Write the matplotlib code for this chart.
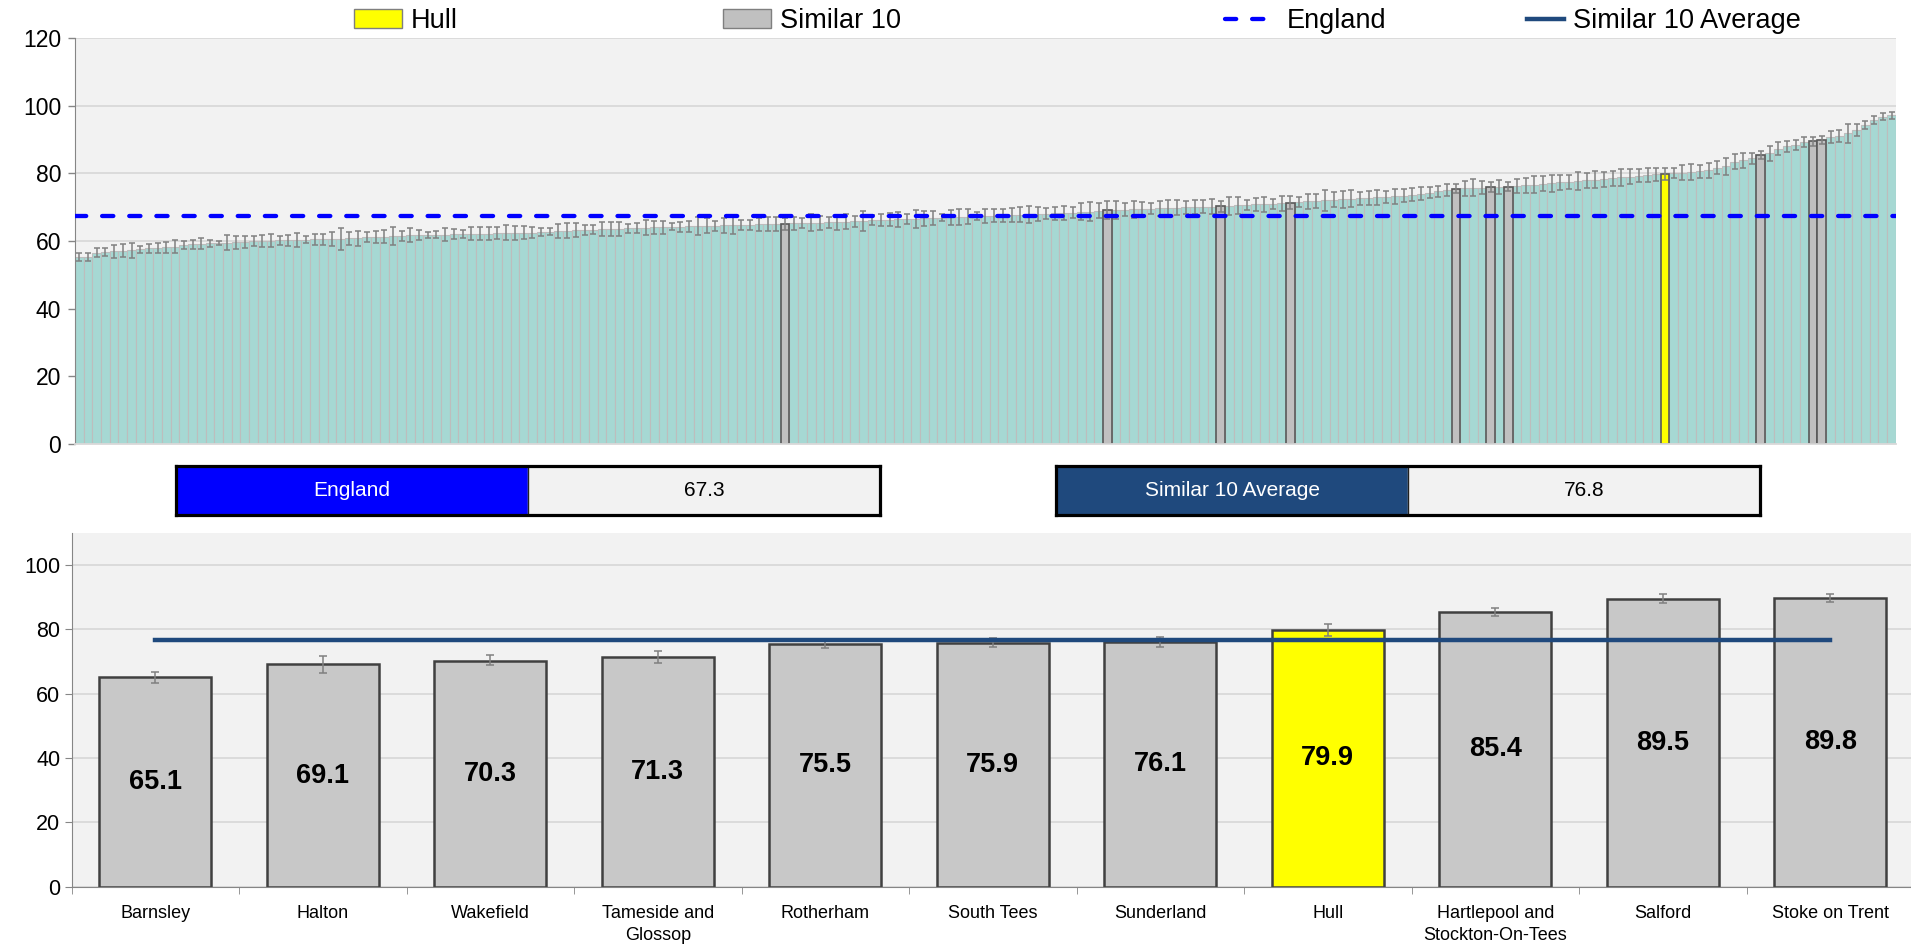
#!/usr/bin/env python3
"""Hull vs all CCGs (sorted) plus the Similar 10 comparison panel."""
import matplotlib.pyplot as plt
from matplotlib.lines import Line2D
from matplotlib.patches import Patch

plt.rcParams['font.family'] = ['Liberation Sans', 'DejaVu Sans']

# every CCG in England, sorted ascending
CCG_VALUES = [
    55.2, 55.3, 56.6, 56.8, 57.0, 57.1, 57.2, 57.5, 57.8, 58.0,
    58.1, 58.3, 58.9, 59.0, 59.2, 59.3, 59.4, 59.5, 59.6, 59.7,
    60.0, 60.0, 60.1, 60.2, 60.2, 60.3, 60.4, 60.5, 60.5, 60.6,
    60.6, 60.8, 60.8, 61.1, 61.2, 61.3, 61.4, 61.6, 61.7, 61.7,
    61.8, 61.9, 61.9, 62.0, 62.1, 62.2, 62.2, 62.2, 62.3, 62.4,
    62.4, 62.5, 62.5, 62.6, 62.7, 62.9, 63.0, 63.2, 63.3, 63.4,
    63.5, 63.5, 63.6, 63.7, 63.8, 63.9, 64.0, 64.1, 64.2, 64.2,
    64.3, 64.4, 64.5, 64.5, 64.6, 64.7, 64.8, 64.8, 64.9, 65.0,
    65.0, 65.1, 65.2, 65.3, 65.4, 65.4, 65.5, 65.6, 65.7, 65.8,
    65.9, 66.1, 66.2, 66.3, 66.4, 66.5, 66.6, 66.7, 66.8, 66.9,
    67.0, 67.1, 67.2, 67.3, 67.4, 67.5, 67.6, 67.7, 67.8, 67.9,
    68.0, 68.1, 68.2, 68.3, 68.4, 68.6, 68.7, 68.9, 69.1, 69.2,
    69.3, 69.4, 69.5, 69.6, 69.7, 69.8, 69.9, 70.0, 70.0, 70.1,
    70.2, 70.3, 70.4, 70.5, 70.6, 70.8, 70.9, 71.0, 71.1, 71.3,
    71.5, 71.7, 71.9, 72.0, 72.2, 72.3, 72.5, 72.6, 72.7, 72.9,
    73.0, 73.2, 73.4, 73.7, 74.0, 74.3, 74.7, 75.1, 75.5, 75.6,
    75.7, 75.8, 75.9, 76.0, 76.1, 76.3, 76.5, 76.7, 76.9, 77.1,
    77.3, 77.5, 77.7, 77.9, 78.1, 78.3, 78.6, 78.8, 79.0, 79.3,
    79.5, 79.7, 79.9, 80.0, 80.2, 80.4, 80.6, 80.9, 81.7, 82.1,
    83.4, 83.8, 84.4, 85.4, 85.9, 87.3, 88.0, 88.3, 89.3, 89.5,
    89.8, 90.8, 91.0, 91.8, 92.8, 94.2, 95.7, 96.7, 97.2,
]
# half width of the confidence interval for each CCG
CCG_CI = [
    1.2, 1.2, 1.2, 1.2, 1.9, 1.9, 2.2, 1.0, 1.4, 1.5,
    1.7, 1.9, 1.2, 1.4, 1.7, 1.1, 0.7, 2.2, 1.9, 1.9,
    1.4, 1.7, 2.0, 1.4, 1.7, 2.2, 1.0, 1.7, 1.7, 2.0,
    3.2, 2.0, 2.2, 1.5, 1.9, 1.9, 2.7, 1.5, 2.0, 1.5,
    1.0, 1.1, 2.0, 1.5, 1.2, 2.0, 2.0, 2.0, 1.7, 2.2,
    2.0, 1.9, 1.5, 1.2, 1.0, 2.1, 2.2, 2.0, 1.5, 1.2,
    2.0, 2.1, 2.0, 1.2, 1.4, 2.2, 1.9, 1.9, 1.0, 1.5,
    1.5, 2.7, 2.2, 1.5, 2.2, 2.5, 1.5, 1.5, 2.0, 2.0,
    2.0, 1.8, 1.9, 1.5, 2.5, 2.0, 1.7, 2.2, 2.2, 1.7,
    3.0, 1.5, 1.7, 2.0, 2.2, 1.5, 2.7, 2.2, 2.2, 1.0,
    2.2, 2.5, 2.2, 1.2, 2.2, 1.9, 2.0, 2.0, 2.2, 2.5,
    2.0, 1.7, 2.0, 2.0, 1.7, 2.5, 2.7, 2.2, 2.6, 2.7,
    2.0, 2.5, 2.0, 1.7, 2.2, 2.2, 2.2, 1.9, 2.0, 1.9,
    2.2, 1.6, 2.7, 2.5, 1.5, 2.0, 2.2, 1.5, 2.2, 1.9,
    1.5, 2.2, 2.0, 3.2, 2.2, 2.5, 2.5, 1.9, 2.0, 2.2,
    1.7, 2.2, 1.9, 1.9, 2.0, 1.7, 1.7, 1.7, 1.3, 2.2,
    2.5, 2.0, 1.45, 2.0, 1.45, 2.0, 2.2, 2.5, 2.2, 2.5,
    2.2, 2.0, 2.7, 2.2, 2.5, 2.2, 2.2, 2.5, 2.2, 2.0,
    2.2, 2.0, 1.75, 1.5, 2.2, 2.5, 2.0, 2.2, 2.0, 2.5,
    2.2, 2.2, 1.7, 1.2, 2.2, 2.0, 1.7, 1.5, 1.5, 1.3,
    1.15, 1.7, 1.7, 2.7, 1.7, 1.2, 1.2, 1.0, 1.0,
]

SIMILAR_NAMES = [
    "Barnsley", "Halton", "Wakefield", "Tameside and\nGlossop", "Rotherham",
    "South Tees", "Sunderland", "Hull", "Hartlepool and\nStockton-On-Tees",
    "Salford", "Stoke on Trent",
]
SIMILAR_VALUES = [65.1, 69.1, 70.3, 71.3, 75.5, 75.9, 76.1, 79.9, 85.4, 89.5, 89.8]
SIMILAR_LOW = [63.3, 66.5, 68.8, 69.5, 74.2, 74.5, 74.6, 78.1, 84.2, 88.3, 88.6]
SIMILAR_HIGH = [66.9, 71.7, 71.9, 73.2, 76.8, 77.4, 77.5, 81.6, 86.6, 90.9, 90.9]
# where each of the similar 10 (and Hull) sits in the sorted CCG list
SIMILAR_RANK = [81, 118, 131, 139, 158, 162, 164, 182, 193, 199, 200]
HOME = "Hull"

ENGLAND = 67.3
SIMILAR_AVG = 76.8

TEAL = "#A6D8D3"
GREY = "#C0C0C0"
YELLOW = "#FFFF00"
BLUE = "#0000FF"
NAVY = "#1F497D"
PANEL = "#F2F2F2"
GRID = "#D9D9D9"


def main():
    fig = plt.figure(figsize=(19.11, 9.5), dpi=100)
    home_rank = SIMILAR_RANK[SIMILAR_NAMES.index(HOME)]

    # ---- top: all CCGs ----
    ax = fig.add_axes([0.0392, 0.5326, 0.9529, 0.4274])
    ax.set_facecolor(PANEL)
    n = len(CCG_VALUES)
    others = [i for i in range(n) if i not in SIMILAR_RANK]
    ax.bar(others, [CCG_VALUES[i] for i in others], width=1.0, color=TEAL,
           edgecolor="#BDBDBD", linewidth=0.8, zorder=2)
    ax.bar(SIMILAR_RANK, [CCG_VALUES[i] for i in SIMILAR_RANK], width=1.0,
           color=[YELLOW if i == home_rank else GREY for i in SIMILAR_RANK],
           edgecolor="#595959", linewidth=1.2, zorder=2.5)
    ax.errorbar(range(n), CCG_VALUES, yerr=CCG_CI, fmt="none", ecolor="#808080",
                elinewidth=1.1, capsize=2, capthick=1.1, zorder=3)
    ax.axhline(ENGLAND, color=BLUE, lw=3.1, linestyle=(0, (2.6, 3.7)),
               dash_capstyle="round", zorder=4)

    ax.set_xlim(-0.5, n - 0.5)
    ax.set_ylim(0, 120)
    ax.set_yticks(range(0, 121, 20))
    ax.set_xticks([])
    ax.grid(axis="y", color=GRID, lw=1.3, zorder=0)
    ax.set_axisbelow(True)
    ax.tick_params(axis="y", labelsize=16.5, length=5, width=1, color="#868686", pad=5)
    for side in ("top", "right"):
        ax.spines[side].set_visible(False)
    ax.spines["left"].set_color("#868686")
    ax.spines["bottom"].set_color(GRID)
    ax.spines["bottom"].set_linewidth(1.3)

    # ---- legend along the top ----
    entries = [
        (Patch(facecolor=YELLOW, edgecolor="#7F7F7F"), "Hull", 0.1852, 1.78),
        (Patch(facecolor=GREY, edgecolor="#7F7F7F"), "Similar 10", 0.3783, 1.78),
        (Line2D([], [], color=BLUE, lw=3.1, linestyle=(0, (2.6, 3.7)),
                dash_capstyle="round"), "England", 0.641, 1.96),
        (Line2D([], [], color=NAVY, lw=3.2), "Similar 10 Average", 0.799, 1.37),
    ]
    for handle, text, xpos, hlen in entries:
        fig.legend(handles=[handle], labels=[text], loc="center left",
                   bbox_to_anchor=(xpos, 0.978), frameon=False, fontsize=19.5,
                   handlelength=hlen, handleheight=0.67, handletextpad=0.33,
                   borderpad=0, borderaxespad=0)

    # ---- summary boxes ----
    boxes = [
        (0.0921, 0.4605, "England", ENGLAND, BLUE),
        (0.5526, 0.9210, "Similar 10 Average", SIMILAR_AVG, NAVY),
    ]
    for x0, x1, label, value, colour in boxes:
        bx = fig.add_axes([x0, 0.458, x1 - x0, 0.0518])
        bx.set_xlim(0, 2)
        bx.set_ylim(0, 1)
        bx.axvspan(0, 1, color=colour)
        bx.axvspan(1, 2, color=PANEL)
        bx.axvline(1, color="#202020", lw=1)
        bx.text(0.5, 0.5, label, color="white", fontsize=15, ha="center", va="center")
        bx.text(1.5, 0.5, f"{value:.1f}", color="black", fontsize=15,
                ha="center", va="center")
        bx.set_xticks([])
        bx.set_yticks([])
        for sp in bx.spines.values():
            sp.set_color("black")
            sp.set_linewidth(2.3)

    # ---- bottom: similar 10 ----
    bx = fig.add_axes([0.03747, 0.0666, 0.9641, 0.3724])
    bx.set_facecolor(PANEL)
    xs = range(len(SIMILAR_VALUES))
    bx.bar(xs, SIMILAR_VALUES, width=0.67,
           color=[YELLOW if nm == HOME else "#C8C8C8" for nm in SIMILAR_NAMES],
           edgecolor="#404040", linewidth=1.8, zorder=2)
    lower = [v - lo for v, lo in zip(SIMILAR_VALUES, SIMILAR_LOW)]
    upper = [hi - v for v, hi in zip(SIMILAR_VALUES, SIMILAR_HIGH)]
    bx.errorbar(xs, SIMILAR_VALUES, yerr=[lower, upper], fmt="none",
                ecolor="#808080", elinewidth=1.1, capsize=3, capthick=1.1, zorder=3)
    bx.plot(xs, [SIMILAR_AVG] * len(SIMILAR_VALUES), color=NAVY, lw=3.2, zorder=4)
    for i, v in enumerate(SIMILAR_VALUES):
        bx.text(i, v / 2, f"{v:.1f}", ha="center", va="center", fontsize=19.5,
                fontweight="bold", zorder=5)

    bx.set_xlim(-0.5, len(SIMILAR_VALUES) - 0.5)
    bx.set_ylim(0, 110)
    bx.set_yticks(range(0, 101, 20))
    bx.set_xticks(list(xs), labels=SIMILAR_NAMES)
    bx.set_xticks([i - 0.5 for i in range(len(SIMILAR_VALUES) + 1)], minor=True)
    bx.tick_params(axis="x", which="major", length=0, labelsize=13, pad=13)
    bx.tick_params(axis="x", which="minor", length=5, color="#868686")
    bx.tick_params(axis="y", labelsize=15.5, length=5, color="#868686", pad=3)
    for lbl in bx.get_xticklabels():
        lbl.set_linespacing(1.4)
    bx.grid(axis="y", color=GRID, lw=1.3, zorder=0)
    bx.set_axisbelow(True)
    for side in ("top", "right"):
        bx.spines[side].set_visible(False)
    bx.spines["left"].set_color("#868686")
    bx.spines["bottom"].set_color("#868686")

    fig.savefig("out.png", dpi=100)


if __name__ == "__main__":
    main()
